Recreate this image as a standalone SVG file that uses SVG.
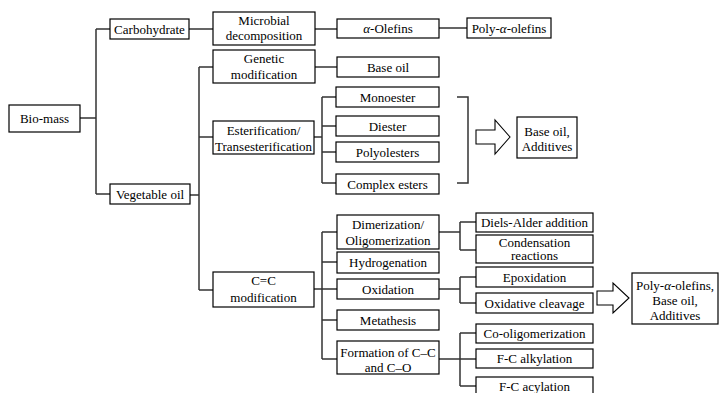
<svg xmlns="http://www.w3.org/2000/svg" width="719" height="393" viewBox="0 0 719 393">
<style>
.b{fill:#fff;stroke:#000;stroke-width:1.2}
text{font-family:'Liberation Serif','DejaVu Serif',serif;font-size:13px;fill:#000;text-anchor:middle}
.c{fill:none;stroke:#333;stroke-width:1.5}
.a{fill:#fff;stroke:#000;stroke-width:1.1}
.i{font-style:italic}
</style>
<rect width="719" height="393" fill="#fff"/>
<g id="connectors">
<path class="c" d="M80,118H96M96,29V194M96,29H110M96,194H110"/>
<path class="c" d="M189,29H213M315,29H337M439,28H467"/>
<path class="c" d="M190,195H199M199,67V290M199,67H213M199,137H213M199,290H213"/>
<path class="c" d="M315,67H337"/>
<path class="c" d="M314,137H322M322,97V183M322,97H336M322,126H336M322,152H336M322,183H336"/>
<path class="c" d="M457,97H468V183H457"/>
<path class="c" d="M314,289H322M322,232V359M322,232H337M322,262H337M322,289H337M322,320H337M322,359H337"/>
<path class="c" d="M439,232H460M460,222V250M460,222H476M460,250H476"/>
<path class="c" d="M439,289H460M460,277V303M460,277H476M460,303H476"/>
<path class="c" d="M439,359H460M460,333V386M460,333H476M460,359H476M460,386H476"/>
<polygon class="a" points="476,130 495,130 495,120 510,137 495,154 495,144 476,144"/>
<polygon class="a" points="597,291 613,291 613,283 629,298 613,313 613,305 597,305"/>
</g>
<g font-family="Liberation Serif, DejaVu Serif, serif">
<g id="biomass"><rect class="b" x="9" y="105" width="71" height="27"/><text x="44.5" y="123">Bio-mass</text></g>
<g id="carbohydrate"><rect class="b" x="110" y="19" width="79" height="20"/><text x="149.5" y="33.5">Carbohydrate</text></g>
<g id="vegetable-oil"><rect class="b" x="110" y="184" width="80" height="20"/><text x="150" y="198.5">Vegetable oil</text></g>
<g id="microbial"><rect class="b" x="213" y="12" width="102" height="33"/><text x="264" y="24.5">Microbial</text><text x="264" y="40">decomposition</text></g>
<g id="alpha-olefins"><rect class="b" x="337" y="19" width="102" height="19"/><text x="388" y="33"><tspan class="i">α</tspan>-Olefins</text></g>
<g id="pao"><rect class="b" x="467" y="18" width="84" height="20"/><text x="509" y="32.5">Poly-<tspan class="i">α</tspan>-olefins</text></g>
<g id="genetic"><rect class="b" x="213" y="50" width="102" height="33"/><text x="264" y="62.5">Genetic</text><text x="264" y="78.5">modification</text></g>
<g id="base-oil"><rect class="b" x="337" y="57" width="102" height="20"/><text x="388" y="71.5">Base oil</text></g>
<g id="esterification"><rect class="b" x="213" y="121" width="101" height="33"/><text x="263.5" y="134.5">Esterification/</text><text x="263.5" y="150.5">Transesterification</text></g>
<g id="monoester"><rect class="b" x="336" y="87" width="103" height="20"/><text x="387.5" y="101.5">Monoester</text></g>
<g id="diester"><rect class="b" x="336" y="116" width="103" height="20"/><text x="387.5" y="130.5">Diester</text></g>
<g id="polyolesters"><rect class="b" x="336" y="142" width="103" height="20"/><text x="387.5" y="156.5">Polyolesters</text></g>
<g id="complex-esters"><rect class="b" x="336" y="174" width="103" height="20"/><text x="387.5" y="188.5">Complex esters</text></g>
<g id="base-oil-additives"><rect class="b" x="517" y="117" width="60" height="41"/><text x="547" y="135.5">Base oil,</text><text x="547" y="151">Additives</text></g>
<g id="cc-modification"><rect class="b" x="213" y="272" width="101" height="35"/><text x="263.5" y="285">C=C</text><text x="263.5" y="301.5">modification</text></g>
<g id="dimerization"><rect class="b" x="337" y="215" width="102" height="34"/><text x="388" y="228.5">Dimerization/</text><text x="388" y="244.5">Oligomerization</text></g>
<g id="hydrogenation"><rect class="b" x="337" y="252" width="102" height="21"/><text x="388" y="266.5">Hydrogenation</text></g>
<g id="oxidation"><rect class="b" x="337" y="279" width="102" height="20"/><text x="388" y="293.5">Oxidation</text></g>
<g id="metathesis"><rect class="b" x="337" y="310" width="102" height="20"/><text x="388" y="324.5">Metathesis</text></g>
<g id="formation"><rect class="b" x="337" y="341" width="102" height="33"/><text x="388" y="356.5">Formation of C–C</text><text x="388" y="371.5">and C–O</text></g>
<g id="diels-alder"><rect class="b" x="476" y="213" width="117" height="19"/><text x="534.5" y="227">Diels-Alder addition</text></g>
<g id="condensation"><rect class="b" x="476" y="235" width="117" height="28"/><text x="534.5" y="246.5" font-size="12.5">Condensation</text><text x="534.5" y="260" font-size="12.5">reactions</text></g>
<g id="epoxidation"><rect class="b" x="476" y="267" width="117" height="20"/><text x="534.5" y="281.5">Epoxidation</text></g>
<g id="oxidative-cleavage"><rect class="b" x="476" y="293" width="117" height="20"/><text x="534.5" y="307.5">Oxidative cleavage</text></g>
<g id="co-oligomerization"><rect class="b" x="476" y="324" width="117" height="19"/><text x="534.5" y="338">Co-oligomerization</text></g>
<g id="fc-alkylation"><rect class="b" x="476" y="349" width="117" height="19"/><text x="534.5" y="363">F-C alkylation</text></g>
<g id="fc-acylation"><rect class="b" x="476" y="377" width="117" height="20"/><text x="534.5" y="390.5">F-C acylation</text></g>
<g id="products"><rect class="b" x="632" y="273" width="86" height="51"/><text x="675" y="289.5">Poly-<tspan class="i">α</tspan>-olefins,</text><text x="675" y="304.5">Base oil,</text><text x="675" y="319.5">Additives</text></g>
</g>
</svg>
